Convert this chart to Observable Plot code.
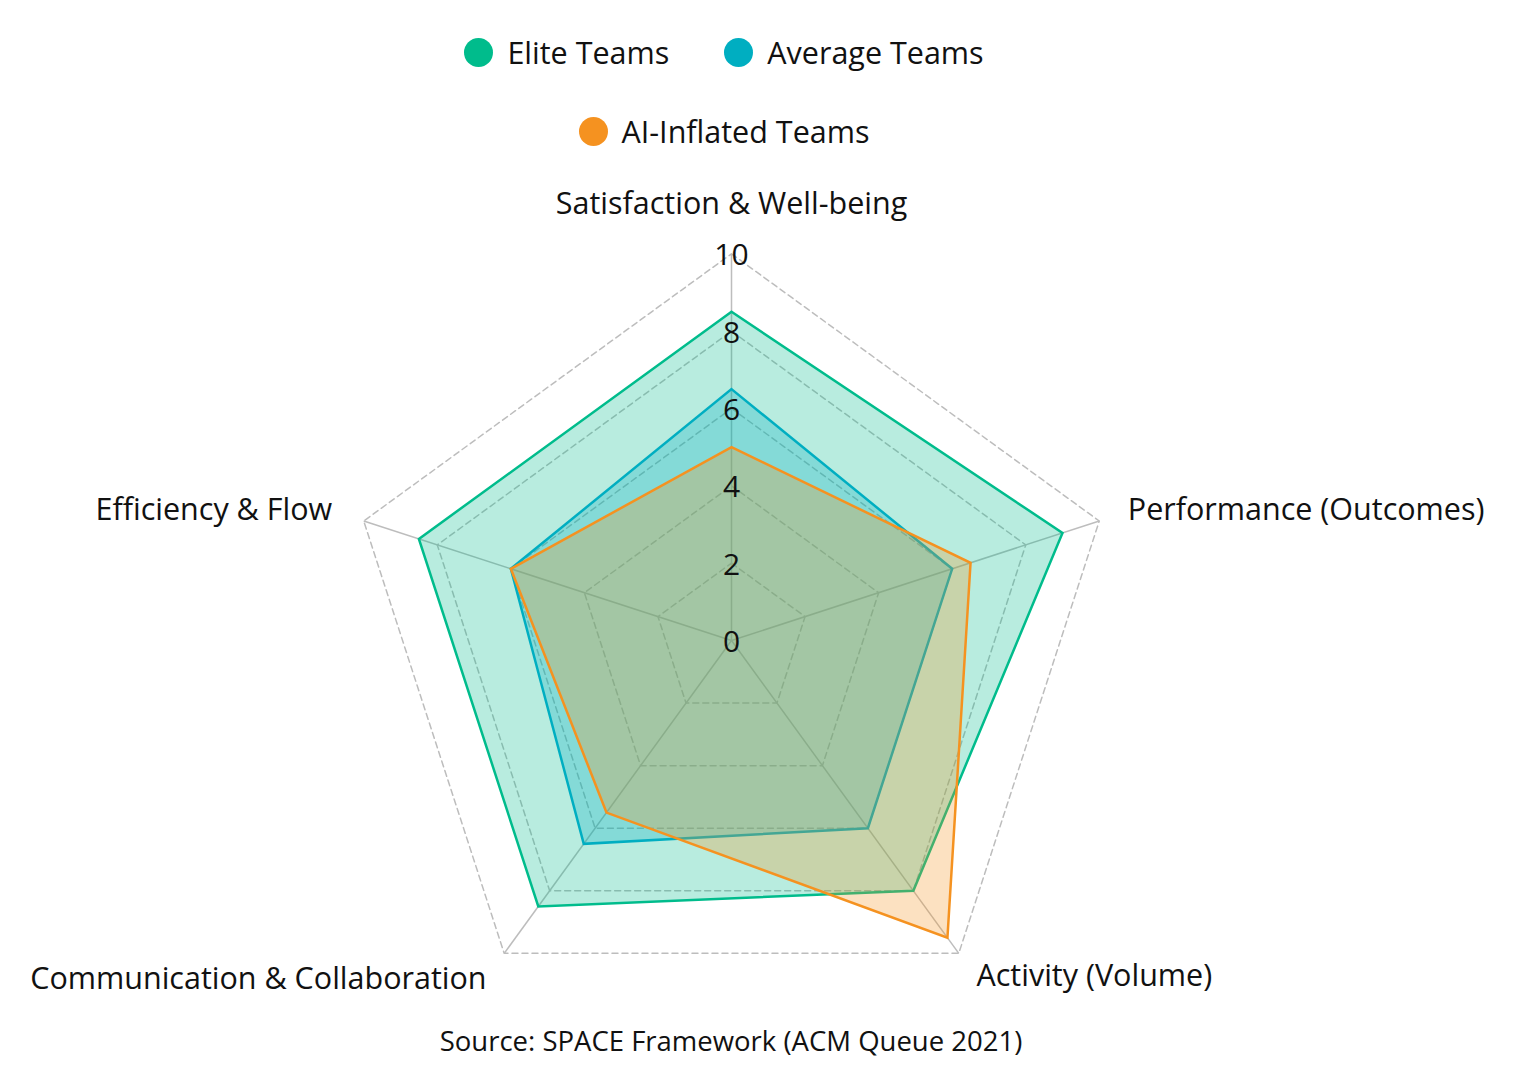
<!DOCTYPE html>
<html>
<head>
<meta charset="utf-8">
<script src="https://cdn.jsdelivr.net/npm/d3@7"></script>
<script src="https://cdn.jsdelivr.net/npm/@observablehq/plot@0.6"></script>
<style>
  html, body { margin: 0; padding: 0; background: #fff; }
  body { font-family: "Open Sans", sans-serif; color: #111; width: 1514px; height: 1080px; position: relative; overflow: hidden; }
  #legend { position: absolute; left: 0; top: 0; width: 1448px; height: 165px; }
  .row { position: absolute; left: 0; width: 100%; height: 40px; display: flex; justify-content: center; align-items: center; gap: 55px; font-size: 30.5px; }
  .item { display: flex; align-items: center; gap: 14px; white-space: nowrap; }
  .sw { width: 29px; height: 29px; border-radius: 50%; flex: none; }
  #chart { position: absolute; left: 0; top: 165px; }
  #caption { position: absolute; left: 0; width: 1462px; top: 1022px; text-align: center; font-size: 27.5px; line-height: 38px; }
</style>
</head>
<body>
<div id="legend"></div>
<div id="chart"></div>
<div id="caption">Source: SPACE Framework (ACM Queue 2021)</div>
<script>
// ---- data ----
const axes = ["Satisfaction & Well-being", "Performance (Outcomes)", "Activity (Volume)", "Communication & Collaboration", "Efficiency & Flow"];
const seriesNames = ["Elite Teams", "Average Teams", "AI-Inflated Teams"];
const elite = [8.5, 9, 8, 8.5, 8.5];
const average = [6.5, 6, 6, 6.5, 6];
const aiInflated = [5, 6.5, 9.5, 5.5, 6];
const tickValues = [0, 2, 4, 6, 8, 10];
const gridLevels = [2, 4, 6, 8, 10];
const maxValue = 10;

const colors = ["#00bc8c", "#00aec1", "#f59220"];
const seriesValues = [elite, average, aiInflated];

// ---- legend ----
const legend = document.getElementById("legend");
const rows = [[0, 1], [2]];
const rowTops = [32, 111];
rows.forEach((r, k) => {
  const row = document.createElement("div");
  row.className = "row";
  row.style.top = rowTops[k] + "px";
  r.forEach(i => {
    const it = document.createElement("div");
    it.className = "item";
    const sw = document.createElement("span");
    sw.className = "sw";
    sw.style.background = colors[i];
    const tx = document.createElement("span");
    tx.textContent = seriesNames[i];
    it.appendChild(sw); it.appendChild(tx);
    row.appendChild(it);
  });
  legend.appendChild(row);
});

// ---- geometry ----
const W = 1514, H = 850;
const cx = 731, cy = 475;           // centre in svg pixels
const R = 386.7;                    // radius of the 10 ring in px
const unit = R / maxValue;
const n = axes.length;
const ang = i => Math.PI / 2 - i * 2 * Math.PI / n;
const px = (i, r) => r * Math.cos(ang(i));
const py = (i, r) => r * Math.sin(ang(i));

const gridPts = gridLevels.flatMap(l => axes.map((a, i) => ({level: l, x: px(i, l), y: py(i, l)})));
const spokes = axes.map((a, i) => ({x2: px(i, maxValue), y2: py(i, maxValue)}));
const seriesPts = seriesValues.map((vals, s) => vals.map((v, i) => ({s, x: px(i, v), y: py(i, v)})));

const labelR = maxValue + 30 / unit;
const labelRows = axes.map((a, i) => ({name: a, i, x: px(i, labelR), y: py(i, labelR)}));

const labelMarks = labelRows.map(d => {
  const c = Math.cos(ang(d.i));
  const textAnchor = Math.abs(c) < 0.01 ? "middle" : (c > 0 ? "start" : "end");
  const lineAnchor = d.i === 0 ? "bottom" : "middle";
  const dy = d.i === 0 ? -10 : (d.i === 3 ? 2 : -1);
  const dx = d.i === 4 ? -3 : 0;
  return Plot.text([d], {x: "x", y: "y", text: "name", textAnchor, lineAnchor, dx, dy, fontSize: 30.5, fill: "#111"});
});

const seriesMarks = seriesPts.map((pts, s) =>
  Plot.line(pts, {x: "x", y: "y", curve: "linear-closed", fill: colors[s], fillOpacity: 0.28,
    stroke: colors[s], strokeWidth: 2.5, strokeLinejoin: "miter", strokeMiterlimit: 10})
);

const chart = Plot.plot({
  width: W, height: H, margin: 0,
  x: {domain: [-cx / unit, (W - cx) / unit], axis: null},
  y: {domain: [-(H - cy) / unit, cy / unit], axis: null},
  style: {fontFamily: "'Open Sans', sans-serif", overflow: "visible", background: "transparent"},
  marks: [
    Plot.line(gridPts, {x: "x", y: "y", z: "level", curve: "linear-closed", stroke: "#bdbdbd", strokeWidth: 1.5, strokeDasharray: "6,4"}),
    Plot.link(spokes, {x1: d => 0, y1: d => 0, x2: "x2", y2: "y2", stroke: "#bdbdbd", strokeWidth: 1.5}),
    ...seriesMarks,
    Plot.text(tickValues, {x: d => 0, y: d => d, text: d => String(d), fontSize: 30, fill: "#111", textAnchor: "middle", lineAnchor: "middle", dy: 2}),
    ...labelMarks
  ]
});
document.getElementById("chart").appendChild(chart);
</script>
</body>
</html>
